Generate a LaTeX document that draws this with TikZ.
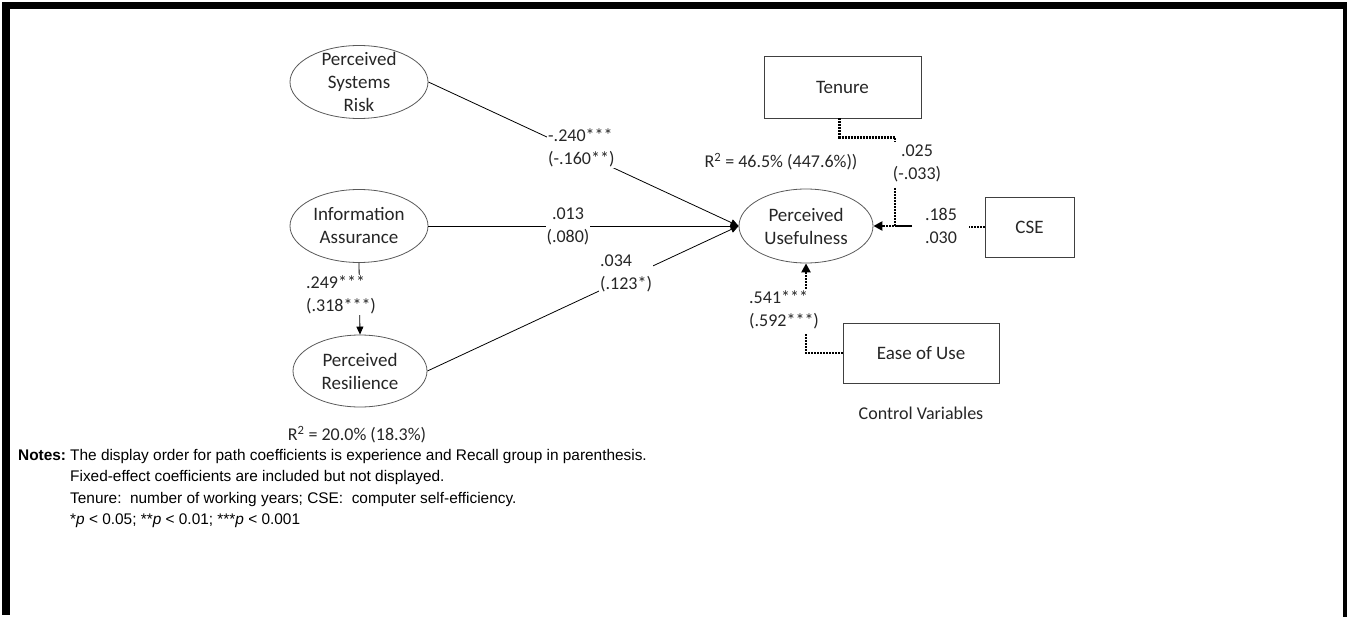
\documentclass[tikz,border=0pt]{standalone}
\usepackage{fontspec}
\setmainfont{Carlito}
\newfontfamily\notesfont{Liberation Sans}
\usetikzlibrary{shapes.geometric,arrows.meta}
\begin{document}
\begin{tikzpicture}[x=1pt,y=-1pt,
  lat/.style={ellipse, draw=black!65, line width=0.8pt, inner sep=0pt},
  obs/.style={rectangle, draw=black!75, line width=0.9pt, inner sep=0pt, font=\fontsize{19}{23}\selectfont, text=black!85},
  txt/.style={font=\fontsize{19}{23}\selectfont, align=center, text=black!85, inner sep=0pt},
  lbl/.style={font=\fontsize{18}{23}\selectfont, text=black!85, fill=white, inner sep=1pt},
  plaintxt/.style={font=\fontsize{18}{22}\selectfont, text=black!85, inner sep=0pt},
  pathline/.style={line width=0.8pt, -{Triangle[length=8pt,width=7pt]}},
  ctrl/.style={line width=2.6pt, dash pattern=on 2pt off 1pt},
  ctrlarrow/.style={ctrl, -{Triangle[length=9pt,width=9pt]}},
  notes/.style={font=\notesfont\fontsize{15.4}{21.5}\selectfont, inner sep=0pt, anchor=base west},
]
\useasboundingbox (0,0) rectangle (1348,617);
% frame
\fill[black] (2,2) rectangle (1347,9);
\fill[black] (2,2) rectangle (10,615);
\fill[black] (1343,2) rectangle (1347,617);

% latent constructs
\node[lat, minimum width=138pt, minimum height=73pt] (psr) at (359,82) {};
\node[txt] (psrt) at (psr) {Perceived\\Systems\\Risk};
\node[lat, minimum width=138pt, minimum height=73pt] (ia) at (359,226) {};
\node[txt] (iat) at (ia) {Information\\Assurance};
\node[lat, minimum width=134pt, minimum height=72pt] (pr) at (360,371) {};
\node[txt] (prt) at (pr) {Perceived\\Resilience};
\node[lat, minimum width=134pt, minimum height=74pt] (pu) at (806,226) {};
\node[txt] (put) at (pu) {Perceived\\Usefulness};

% control variables
\node[obs, minimum width=157pt, minimum height=62pt] (ten) at (842.5,87) {Tenure};
\node[obs, minimum width=89pt, minimum height=60pt] (cse) at (1029.5,227) {CSE};
\node[obs, minimum width=156pt, minimum height=60pt] (eou) at (921,353) {Ease of Use};

% structural paths
\draw[pathline] (psr.east) -- (pu.west);
\draw[pathline] (ia.east) -- (pu.west);
\draw[pathline] (pr.east) -- (pu.west);
\draw[pathline] (ia.south) -- (pr.north);

% control paths
\coordinate (tj) at (895,141);
\coordinate (tb) at (895,188);
\coordinate (cj) at (912,226);
\coordinate (et) at (806,333);
\coordinate (eb) at (806,292);
\draw[ctrl] ([xshift=-3pt]ten.south) -- ++(0,19) -| (tj);
\draw[ctrl] (tb) |- (cj);
\draw[ctrlarrow] (cj) -- (pu.east);
\draw[ctrl] (cse.west) -- ++(-16,0);
\draw[ctrl] (eou.west) -| (et);
\draw[ctrlarrow] (eb) -- (pu.south);

% path labels
\node[lbl, anchor=west, align=left] (l1) at (547,148) {-.240***\\(-.160**)};
\node[lbl, align=center] (l2) at (568,226) {.013\\(.080)};
\node[lbl, anchor=west, align=left] (l3) at (599,273) {.034\\(.123*)};
\node[lbl, anchor=west, align=left] (l4) at (305,295) {.249***\\(.318***)};
\node[lbl, align=center] (l5) at (917,163) {.025\\(-.033)};
\node[lbl, align=center] (l6) at (941,226) {.185\\.030};
\node[lbl, anchor=west, align=left] (l7) at (748,310) {.541***\\(.592***)};

% other texts
\node[plaintxt] (r1) at (781,162) {R\textsuperscript{2} = 46.5\% (447.6\%))};
\node[plaintxt] (r2) at (357,435) {R\textsuperscript{2} = 20.0\% (18.3\%)};
\node[plaintxt] (cv) at (921,413) {Control Variables};

% notes
\node[notes] (n0) at (18,460) {\textbf{Notes:}};
\node[notes] (n1) at (70,460) {The display order for path coefficients is experience and Recall group in parenthesis.};
\node[notes] (n2) at (70,481.5) {Fixed-effect coefficients are included but not displayed.};
\node[notes] (n3) at (70,503) {Tenure:\ \ number of working years; CSE:\ \ computer self-efficiency.};
\node[notes] (n4) at (70,524.5) {*\textit{p} < 0.05; **\textit{p} < 0.01; ***\textit{p} < 0.001};
\end{tikzpicture}
\end{document}
